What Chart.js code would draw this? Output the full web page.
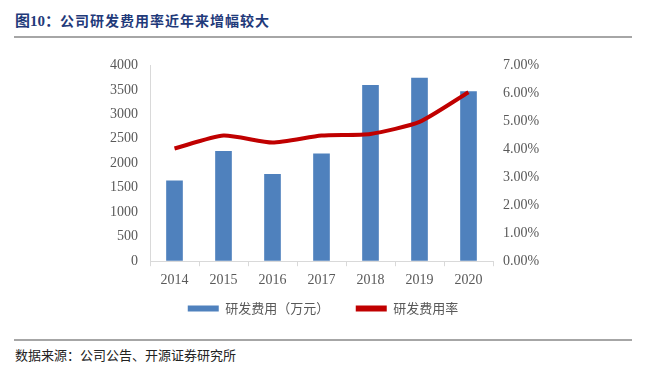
<!DOCTYPE html>
<html>
<head>
<meta charset="utf-8">
<script src="https://cdn.jsdelivr.net/npm/chart.js@4"></script>
<style>
  html, body { margin: 0; padding: 0; background: #fff; }
  body { width: 646px; height: 365px; position: relative; overflow: hidden; }
  .title { position: absolute; left: 15px; top: 9px; font: bold 15px "Liberation Serif", "Noto Sans CJK SC", serif; color: #1F3A7A; white-space: nowrap; }
  .title .cn { font-family: "Noto Sans CJK SC", sans-serif; font-size: 14px; letter-spacing: 1px; }
  .rule { position: absolute; left: 14px; width: 618px; height: 2px; background: #A6A6A6; }
  .source { position: absolute; left: 15px; top: 345px; font: 13px "Noto Sans CJK SC", sans-serif; color: #222; white-space: nowrap; }
  #wrap { position: absolute; left: 0; top: 45px; width: 646px; height: 285px; }
</style>
</head>
<body>
<div class="title">图10：<span class="cn">公司研发费用率近年来增幅较大</span></div>
<div class="rule" style="top:36px"></div>
<div id="wrap"><canvas id="chart"></canvas></div>
<div class="rule" style="top:339px"></div>
<div class="source">数据来源：公司公告、开源证券研究所</div>
<script>
// values
const years = ['2014', '2015', '2016', '2017', '2018', '2019', '2020'];
const rdExpense = [1650, 2250, 1780, 2200, 3600, 3750, 3470];   // 万元
const rdRate = [4.03, 4.49, 4.24, 4.49, 4.55, 4.98, 6.04];      // %

const serif = '"Liberation Serif", "Times New Roman", serif';
const cjk = '"Noto Sans CJK SC", sans-serif';
const grey = '#595959';

const ctx = document.getElementById('chart').getContext('2d');
new Chart(ctx, {
  data: {
    labels: years,
    datasets: [
      {
        type: 'line',
        label: '研发费用率',
        data: rdRate,
        yAxisID: 'y1',
        borderColor: '#C00000',
        backgroundColor: '#C00000',
        borderWidth: 4,
        pointRadius: 0,
        tension: 0.2,
        order: 0
      },
      {
        type: 'bar',
        label: '研发费用（万元）',
        data: rdExpense,
        yAxisID: 'y',
        backgroundColor: '#4F81BD',
        borderWidth: 0,
        categoryPercentage: 1,
        barPercentage: 0.34,
        order: 1
      }
    ]
  },
  options: {
    responsive: true,
    maintainAspectRatio: false,
    animation: false,
    layout: { padding: { top: 18, bottom: 5 } },
    plugins: {
      tooltip: { enabled: false },
      legend: {
        position: 'bottom',
        reverse: true,
        labels: {
          boxWidth: 31,
          boxHeight: 6,
          padding: 7,
          color: grey,
          font: { family: cjk, size: 13 },
          generateLabels: (chart) => {
            const items = Chart.defaults.plugins.legend.labels.generateLabels(chart);
            items.forEach(it => {
              it.lineWidth = 0;
              it.strokeStyle = it.fillStyle;
              // widen the gap after the bar entry
              if (it.datasetIndex === 1) it.text += '\u3000\u3000';
            });
            return items;
          }
        }
      }
    },
    scales: {
      x: {
        grid: { drawOnChartArea: false, drawTicks: true, tickLength: 5, color: '#D9D9D9' },
        border: { display: true, color: '#D9D9D9' },
        ticks: { color: grey, font: { family: serif, size: 14 }, padding: 6 }
      },
      y: {
        position: 'left',
        min: 0,
        max: 4000,
        afterFit: (s) => { s.width = 150; },
        grid: { drawOnChartArea: false, drawTicks: false },
        border: { display: true, color: '#D9D9D9' },
        ticks: { stepSize: 500, color: grey, font: { family: serif, size: 14 }, padding: 12, callback: (v) => String(v) }
      },
      y1: {
        position: 'right',
        min: 0,
        max: 7,
        afterFit: (s) => { s.width = 153; },
        grid: { drawOnChartArea: false, drawTicks: false },
        border: { display: false },
        ticks: {
          stepSize: 1,
          color: grey,
          font: { family: serif, size: 14 },
          padding: 10,
          callback: (v) => v.toFixed(2) + '%'
        }
      }
    }
  }
});
</script>
</body>
</html>
